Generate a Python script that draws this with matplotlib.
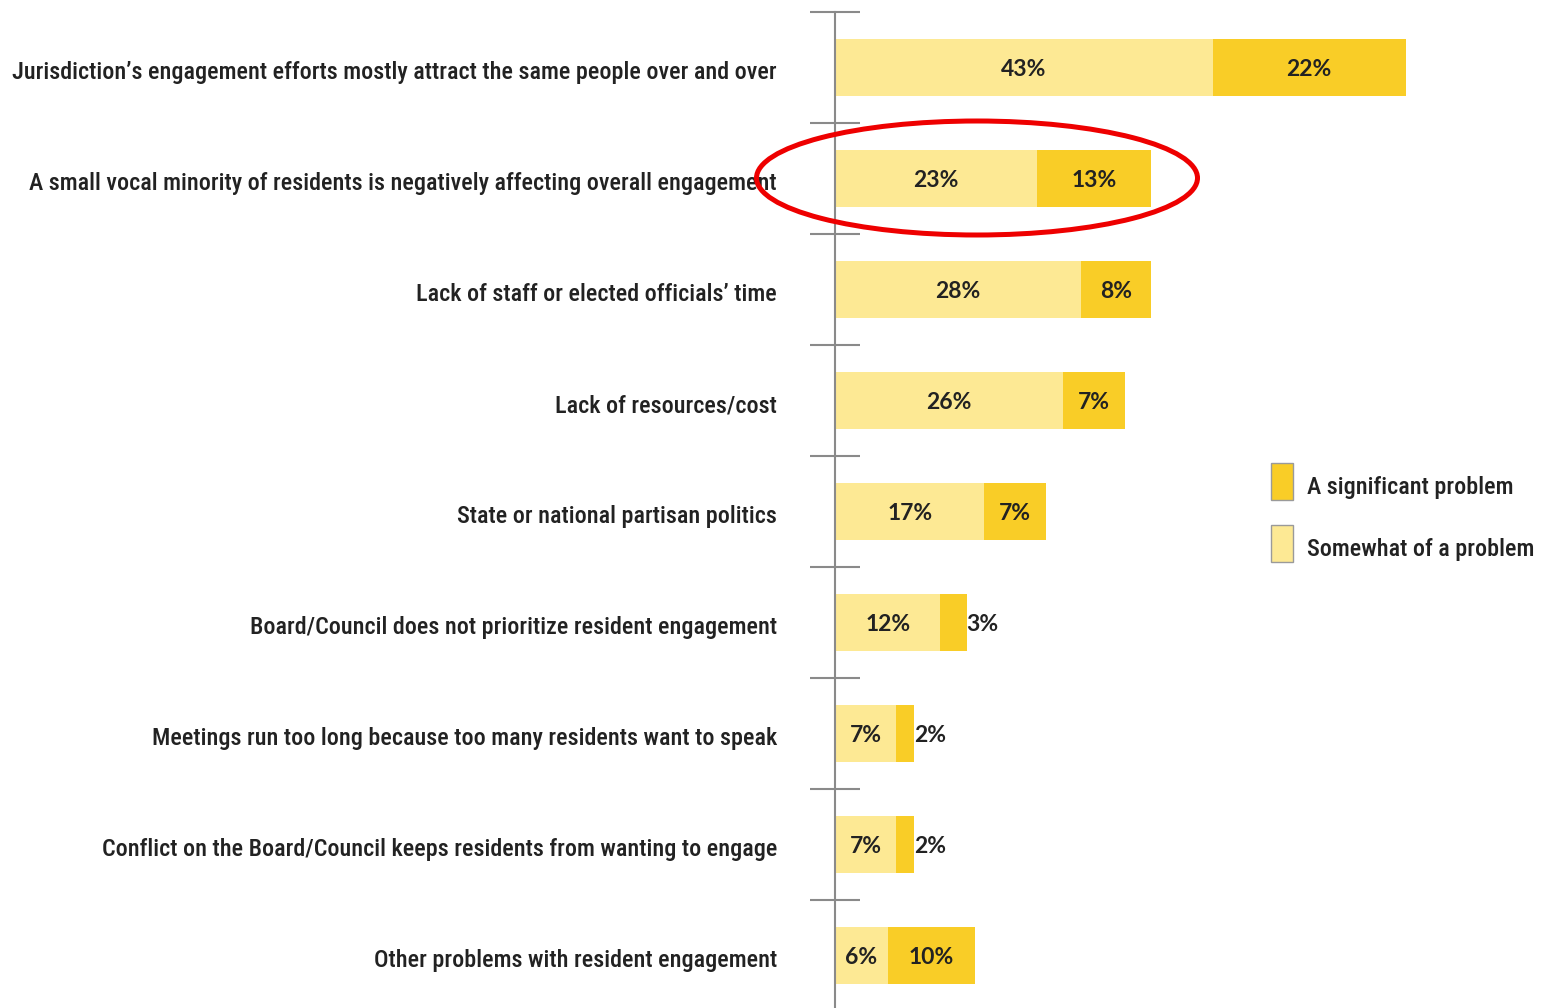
import matplotlib
matplotlib.use("Agg")
import matplotlib.pyplot as plt
from matplotlib.patches import Ellipse, Rectangle
from matplotlib.transforms import ScaledTranslation
from matplotlib import font_manager

categories = [
    "Jurisdiction\u2019s engagement efforts mostly attract the same people over and over",
    "A small vocal minority of residents is negatively affecting overall engagement",
    "Lack of staff or elected officials\u2019 time",
    "Lack of resources/cost",
    "State or national partisan politics",
    "Board/Council does not prioritize resident engagement",
    "Meetings run too long because too many residents want to speak",
    "Conflict on the Board/Council keeps residents from wanting to engage",
    "Other problems with resident engagement",
]
somewhat = [43, 23, 28, 26, 17, 12, 7, 7, 6]
significant = [22, 13, 8, 7, 7, 3, 2, 2, 10]
legend_labels = ["A significant problem", "Somewhat of a problem"]

LIGHT = "#FDE994"
DARK = "#F9CD27"
TXT = "#222222"

avail = {f.name for f in font_manager.fontManager.ttflist}
cond = [f for f in ["Liberation Sans Narrow", "DejaVu Sans Condensed", "Roboto Condensed"] if f in avail]
label_family = cond + ["DejaVu Sans"]
num_family = [f for f in ["Lato", "Open Sans"] if f in avail] + ["DejaVu Sans"]

W, H = 1541, 1008
fig = plt.figure(figsize=(W / 100, H / 100), dpi=100)
x0 = 835 / W
ax = fig.add_axes([x0, 0, 1 - x0, 1 - 12 / H])

n = len(categories)
ys = list(range(n))
ax.barh(ys, somewhat, height=0.52, color=LIGHT, edgecolor="none", zorder=2)
ax.barh(ys, significant, left=somewhat, height=0.52, color=DARK, edgecolor="none", zorder=2)

ax.set_xlim(0, (W - 835) / 8.78)
ax.set_ylim(-0.5 + (H - 12) / 111.0, -0.5)

NUMSZ = 16.5
for i in range(n):
    s, g = somewhat[i], significant[i]
    ax.text(s / 2, i, f"{s}%", ha="center", va="center_baseline", fontsize=NUMSZ,
            fontweight="bold", color=TXT, family=num_family, zorder=3)
    if g >= 5:
        ax.text(s + g / 2, i, f"{g}%", ha="center", va="center_baseline", fontsize=NUMSZ,
                fontweight="bold", color=TXT, family=num_family, zorder=3)
    else:
        ax.text(s + g, i, f"{g}%", ha="left", va="center_baseline", fontsize=NUMSZ,
                fontweight="bold", color=TXT, family=num_family, zorder=3)

for sp in ["top", "right", "bottom"]:
    ax.spines[sp].set_visible(False)
ax.spines["left"].set_color("#8a8a8a")
ax.spines["left"].set_linewidth(1.5)
ax.set_xticks([])
ax.set_yticks([i - 0.5 for i in range(n)])
ax.set_yticklabels([])
ax.tick_params(axis="y", which="major", direction="inout", length=36,
               width=1.5, color="#8a8a8a")

lab_tr = ax.get_yaxis_transform() + ScaledTranslation(-58 / 100, -3 / 100, fig.dpi_scale_trans)
for i, cat in enumerate(categories):
    ax.text(0, i, cat, transform=lab_tr, ha="right", va="center_baseline",
            fontsize=17.4, fontweight="medium", color=TXT, family=label_family,
            clip_on=False)

# legend
for k, (lab, col) in enumerate(zip(legend_labels, [DARK, LIGHT])):
    yc = [482, 544][k]
    fig.add_artist(Rectangle((1271 / W, 1 - (yc + 18) / H), 22 / W, 37 / H,
                             transform=fig.transFigure, facecolor=col,
                             edgecolor="#9a9a9a", linewidth=1))
    fig.text(1307 / W, 1 - (yc + 3) / H, lab, ha="left", va="center_baseline",
             fontsize=17.4, fontweight="medium", color=TXT, family=label_family)

# red highlight ellipse
fig.add_artist(Ellipse((977 / W, 1 - 178 / H), 441 / W, 114 / H,
                       transform=fig.transFigure, fill=False,
                       edgecolor="#EE0000", linewidth=3.6, zorder=10))

fig.savefig("out.png", dpi=100)
